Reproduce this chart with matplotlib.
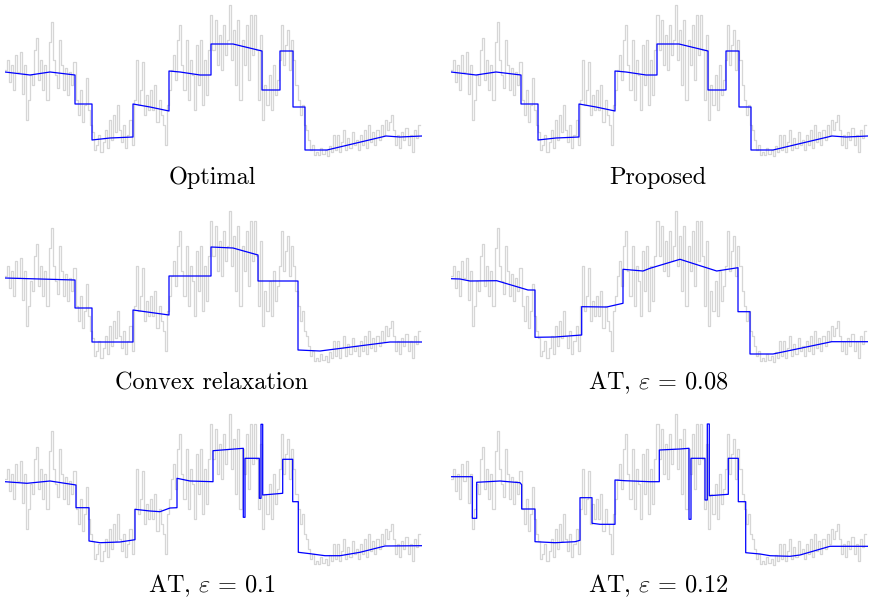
import numpy as np
import matplotlib
matplotlib.use("Agg")
import matplotlib.pyplot as plt

plt.rcParams["font.family"] = "cmr10"
plt.rcParams["mathtext.fontset"] = "cm"
plt.rcParams["axes.unicode_minus"] = False

# noisy observed signal (200 samples), shared by all panels
noisy = [
    90, 100, 78, 95, 70, 105, 88, 108, 66, 95,
    40, 60, 85, 75, 110, 122, 80, 100, 70, 95,
    60, 118, 138, 100, 85, 72, 120, 95, 70, 92,
    65, 88, 75, 98, 60, 45, 70, 38, 55, 82,
    50, 35, 28, 10, 15, 25, 8, 18, 30, 12,
    40, 20, 45, 28, 55, 30, 18, 35, 12, 25,
    40, 15, 60, 100, 55, 70, 98, 45, 65, 50,
    70, 50, 75, 38, 60, 45, 35, 15, 55, 70,
    90, 105, 80, 120, 135, 95, 70, 120, 60, 100,
    85, 50, 115, 75, 120, 55, 100, 65, 110, 145,
    110, 140, 95, 125, 90, 135, 105, 120, 155, 100,
    130, 75, 140, 60, 120, 95, 135, 80, 145, 105,
    145, 110, 60, 125, 40, 75, 55, 85, 50, 95,
    65, 80, 100, 135, 95, 115, 130, 90, 120, 100,
    75, 60, 45, 55, 35, 30, 20, 10, 15, 5,
    8, 5, 12, 6, 10, 4, 14, 8, 25, 10,
    25, 8, 18, 30, 10, 22, 12, 28, 15, 20,
    10, 25, 15, 30, 12, 35, 18, 28, 15, 30,
    20, 35, 25, 40, 30, 38, 45, 30, 15, 25,
    12, 28, 20, 32, 15, 25, 8, 30, 22, 35,
]

# reconstructions: breakpoints (t, value)
opt_t = [5, 30, 50, 75, 75, 92, 92, 110, 133, 133, 150, 169, 169, 180, 200, 211,
         211, 233, 262, 262, 280, 280, 293, 293, 305, 305, 327, 386, 400, 422]
opt_v = [88, 85, 88, 85, 56, 56, 20, 22, 23, 56, 53, 49, 89, 88, 85, 85,
         116, 116, 109, 70, 70, 109, 109, 53, 53, 10, 10, 24, 23, 24]

prop_t = [5, 30, 50, 75, 75, 92, 92, 110, 133, 133, 150, 169, 169, 180, 200, 211,
          211, 233, 262, 262, 280, 280, 293, 293, 305, 305, 327, 386, 400, 422]
prop_v = [88, 85, 88, 85, 56, 56, 20, 22, 23, 56, 53, 49, 89, 88, 85, 85,
          116, 116, 109, 70, 70, 109, 109, 53, 53, 10, 10, 24, 23, 24]

cvx_t = [5, 75, 75, 92, 92, 133, 133, 169, 169, 211, 211, 233, 258, 258, 298,
         298, 320, 390, 422]
cvx_v = [88, 86, 58, 58, 24, 24, 56, 51, 90, 90, 119, 118, 111, 85, 85,
         16, 15, 24, 24]

at08_t = [5, 14, 24, 50.7, 82, 89, 89, 109, 135.7, 135.7, 160.7, 177, 177, 197,
          204, 234, 270.7, 292, 292, 304, 304, 327, 385.7, 422]
at08_v = [87.3, 87, 85, 85.3, 76, 76, 28.7, 29, 31, 59.3, 59, 62.7, 96.7, 95,
          97.7, 106.7, 95, 98.3, 54.3, 54.3, 12, 12, 24.3, 24.3]

at10_t = [5, 27, 50, 76, 76, 89, 89, 100, 120, 135, 135, 150, 160, 170, 177,
          177, 190, 213, 213, 243.3, 243.3, 245, 245, 259.3, 259.3, 261,
          261, 262.7, 262.7, 282.7, 282.7, 292.7, 292.7, 298.3, 298.3,
          310, 325, 340, 360, 385, 422]
at10_v = [87.3, 85.7, 88, 84, 61.3, 61.3, 28, 26.3, 27, 29.3, 59.7, 58, 57.3, 61, 61.3,
          90.7, 88, 87.3, 118.3, 120.7, 51.7, 51.7, 110.7, 110.7, 70.7, 70.7,
          144.7, 144.7, 74, 75.7, 109.7, 109.7, 67.3, 67.3, 16.7,
          15.3, 13.3, 13.3, 16.7, 23, 23.3]

at12_t = [5, 26.3, 26.3, 30.7, 30.7, 54, 74, 75.7, 75.7, 89, 89, 109, 129, 134,
          134, 146, 146, 154, 169, 169, 179, 204, 213.3, 213.3, 234, 243,
          243, 245, 245, 259, 259, 261.3, 261.3, 263.3, 263.3, 282.3,
          282.3, 292.3, 292.3, 299.7, 299.7, 314, 324, 344, 354, 384, 422]
at12_v = [92.3, 92.3, 50.7, 50.7, 86.7, 88, 86.3, 84.3, 60, 60, 27.3, 26.3, 27.3, 28.7,
          71.3, 71.3, 45.7, 44.7, 44.7, 89, 88.3, 87.3, 87.3, 119, 120, 120.7,
          49.7, 49.7, 110.7, 110.7, 69, 69, 145, 145, 73.3, 74.7,
          110.7, 110.7, 67.3, 67.3, 16.3, 15, 13.3, 12.7, 14, 22.7, 22.7]

panels = [
    ("Optimal", opt_t, opt_v),
    ("Proposed", prop_t, prop_v),
    ("Convex relaxation", cvx_t, cvx_v),
    (r"AT, $\varepsilon\,=\,0.08$", at08_t, at08_v),
    (r"AT, $\varepsilon\,=\,0.1$", at10_t, at10_v),
    (r"AT, $\varepsilon\,=\,0.12$", at12_t, at12_v),
]

W, H = 870, 600
fig = plt.figure(figsize=(W / 100, H / 100), dpi=100)

t_gray = 5 + 2.075 * np.arange(len(noisy) + 1)
v_gray = list(noisy) + [noisy[-1]]

col_x = [5, 451]
row_y = [0, 206, 409]
label_y = [178, 383, 586]

for k, (name, ft, fv) in enumerate(panels):
    r, c = divmod(k, 2)
    x0 = col_x[c]
    y0 = row_y[r]
    ax = fig.add_axes([x0 / W, 1 - (y0 + 160) / H, 417 / W, 160 / H])
    ax.plot(t_gray, v_gray, drawstyle="steps-post", color="#d6d6d6", lw=0.9)
    ax.plot(ft, fv, color="#0000ff", lw=0.9)
    ax.set_xlim(5, 422)
    ax.set_ylim(0, 160)
    ax.axis("off")
    fig.text((x0 + 207) / W, 1 - label_y[r] / H, name, ha="center", va="center",
             fontsize=17.5)

fig.savefig("out.png", dpi=100)
